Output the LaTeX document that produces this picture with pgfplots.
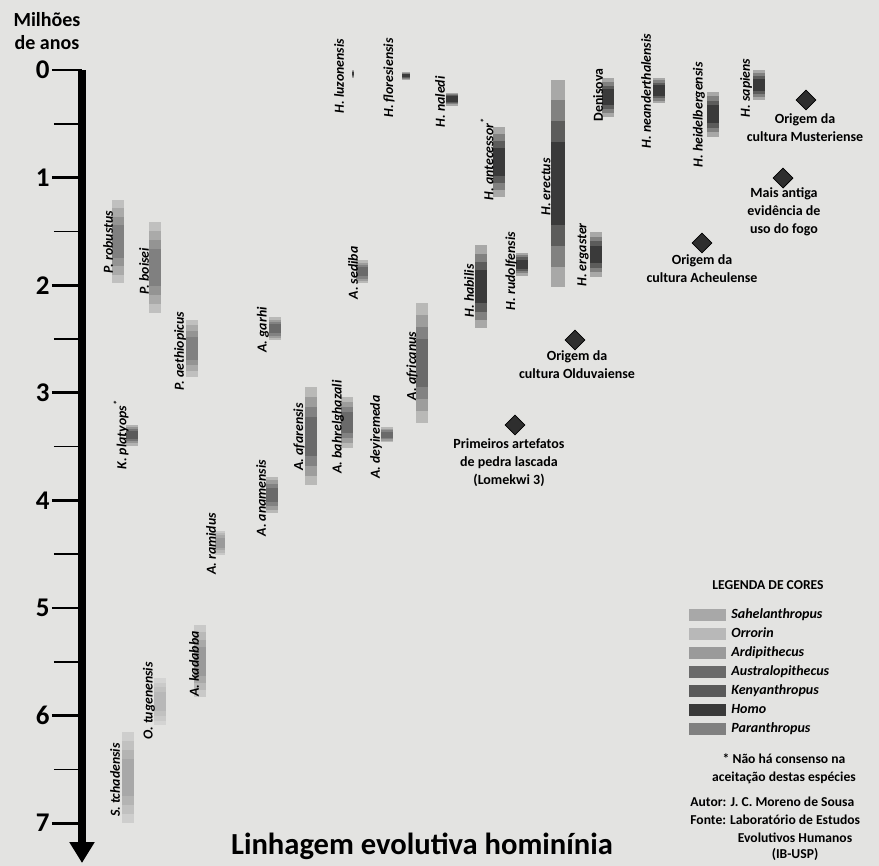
\documentclass[border=0pt]{standalone}
\usepackage{fontspec}
\setmainfont{Carlito}
\usepackage{pgfplots}
\pgfplotsset{compat=1.18}
\usetikzlibrary{arrows.meta}
\definecolor{bgc}{HTML}{E3E3E1}
\definecolor{csahel}{HTML}{A8A8A8}
\definecolor{corr}{HTML}{B8B8B8}
\definecolor{cardi}{HTML}{9A9A9A}
\definecolor{caus}{HTML}{6A6A6A}
\definecolor{cken}{HTML}{5A5A5A}
\definecolor{chomo}{HTML}{3A3A3A}
\definecolor{cpar}{HTML}{808080}
\definecolor{dia}{HTML}{2E2E2E}
\tikzset{
  sp/.style={rotate=90, font=\fontsize{6.9}{7}\selectfont\bfseries\itshape, inner sep=0pt},
  ev/.style={align=center, font=\fontsize{7}{9}\selectfont\bfseries, inner sep=0pt},
}
% species bar: x left, x right, y top (Ma), y bottom (Ma), colour
% drawn as nested layers, darker towards the middle of the range
\newcommand{\spbar}[5]{%
  \pgfmathsetmacro\ya{#3+0.10*(#4-#3)}%
  \pgfmathsetmacro\yb{#4-0.10*(#4-#3)}%
  \pgfmathsetmacro\yc{#3+0.20*(#4-#3)}%
  \pgfmathsetmacro\yd{#4-0.20*(#4-#3)}%
  \pgfmathsetmacro\ye{#3+0.30*(#4-#3)}%
  \pgfmathsetmacro\yf{#4-0.30*(#4-#3)}%
  \edef\tmp{%
  \noexpand\addplot[forget plot, draw=none, fill=#5!35!bgc] coordinates {(#1,#3) (#2,#3) (#2,#4) (#1,#4)} -- cycle;
  \noexpand\addplot[forget plot, draw=none, fill=#5!58!bgc] coordinates {(#1,\ya) (#2,\ya) (#2,\yb) (#1,\yb)} -- cycle;
  \noexpand\addplot[forget plot, draw=none, fill=#5!80!bgc] coordinates {(#1,\yc) (#2,\yc) (#2,\yd) (#1,\yd)} -- cycle;
  \noexpand\addplot[forget plot, draw=none, fill=#5] coordinates {(#1,\ye) (#2,\ye) (#2,\yf) (#1,\yf)} -- cycle;}%
  \tmp}
\begin{document}
\begin{tikzpicture}
\useasboundingbox (0,0) rectangle (439.5pt,-433pt);
\fill[bgc] (0,0) rectangle (439.5pt,-433pt);
\begin{axis}[
  at={(41pt,-35pt)}, anchor=north west,
  scale only axis, width=398.5pt, height=396.5pt,
  xmin=82, xmax=879, ymin=0, ymax=7.37, y dir=reverse,
  axis x line=none, axis y line=left,
  axis line style={line width=3.5pt, black, -{Triangle[width=12pt,length=10.5pt]}},
  ytick={0,1,2,3,4,5,6,7}, minor ytick={0.5,1.5,2.5,3.5,4.5,5.5,6.5},
  tick align=outside, major tick length=15pt, minor tick length=14pt,
  major tick style={line width=1.4pt, black}, minor tick style={line width=0.8pt, black},
  yticklabel style={font=\fontsize{13.5}{13.5}\selectfont\bfseries, anchor=east, inner sep=0pt, xshift=-1pt},
  /pgf/number format/assume math mode=true,
  clip=false,
  legend image code/.code={\fill[#1] (0pt,-3pt) rectangle (18.5pt,3pt);},
  legend style={draw=none, fill=none, at={(axis cs:689,4.97)}, anchor=north west, inner sep=0pt, row sep=0pt,
    font=\fontsize{7}{8}\selectfont\bfseries\itshape, nodes={inner sep=0pt, text height=6.5pt, text depth=3pt}, column sep=2.5pt},
  legend cell align=left,
]
% Sahelanthropus / Orrorin / Ardipithecus
\spbar{122}{134}{6.15}{7.00}{csahel}
\spbar{154}{166}{5.65}{6.09}{corr}
\spbar{194}{206}{5.16}{5.83}{cardi}
\spbar{215}{225}{4.28}{4.51}{cardi}
% Australopithecus
\spbar{266}{278}{3.78}{4.12}{caus}
\spbar{305}{317}{2.95}{3.86}{caus}
\spbar{341}{353}{3.04}{3.51}{caus}
\spbar{381}{393}{3.32}{3.46}{caus}
\spbar{416}{428}{2.17}{3.28}{caus}
\spbar{269}{281}{2.30}{2.51}{caus}
\spbar{356}{368}{1.77}{1.98}{caus}
% Kenyanthropus
\spbar{126}{138}{3.30}{3.49}{cken}
% Paranthropus
\spbar{186}{198}{2.32}{2.85}{cpar}
\spbar{112}{124}{1.21}{1.98}{cpar}
\spbar{149}{161}{1.41}{2.26}{cpar}
% Homo
\spbar{475}{487}{1.63}{2.40}{chomo}
\spbar{516}{528}{1.70}{1.91}{chomo}
\spbar{551}{565}{0.09}{2.02}{chomo}
\spbar{590}{602}{1.51}{1.92}{chomo}
\spbar{493}{505}{0.53}{1.18}{chomo}
\spbar{446}{458}{0.21}{0.33}{chomo}
\spbar{402}{410}{0.02}{0.09}{chomo}
\spbar{352}{354}{0.00}{0.07}{chomo}
\spbar{602}{614}{0.07}{0.44}{chomo}
\spbar{653}{665}{0.07}{0.31}{chomo}
\spbar{707}{719}{0.20}{0.62}{chomo}
\spbar{753}{765}{0.00}{0.28}{chomo}
% cultural events
\addplot[forget plot, only marks, mark=square*, mark size=3.5pt, mark options={rotate=45, fill=dia, draw=black}]
  coordinates {(806,0.279) (783,1.004) (702,1.608) (575,2.509) (515,3.299)};
% legend
\addlegendimage{fill=csahel, draw=none}\addlegendentry{Sahelanthropus}
\addlegendimage{fill=corr, draw=none}\addlegendentry{Orrorin}
\addlegendimage{fill=cardi, draw=none}\addlegendentry{Ardipithecus}
\addlegendimage{fill=caus, draw=none}\addlegendentry{Australopithecus}
\addlegendimage{fill=cken, draw=none}\addlegendentry{Kenyanthropus}
\addlegendimage{fill=chomo, draw=none}\addlegendentry{Homo}
\addlegendimage{fill=cpar, draw=none}\addlegendentry{Paranthropus}
% species labels
\node[sp] at (axis cs:115,6.599) {S. tchadensis};
\node[sp] at (axis cs:149,5.864) {O. tugenensis};
\node[sp] at (axis cs:194,5.520) {A. kadabba};
\node[sp] at (axis cs:211,4.405) {A. ramidus};
\node[sp] at (axis cs:261,3.978) {A. anamensis};
\node[sp] at (axis cs:299,3.411) {A. afarensis};
\node[sp] at (axis cs:338,3.318) {A. bahrelghazali};
\node[sp] at (axis cs:376,3.411) {A. deyiremeda};
\node[sp] at (axis cs:412,2.751) {A. africanus};
\node[sp] at (axis cs:263,2.416) {A. garhi};
\node[sp] at (axis cs:353,1.887) {A. sediba};
\node[sp] at (axis cs:121,3.390) {K. platyops\textsuperscript{*}};
\node[sp] at (axis cs:180,2.612) {P. aethiopicus};
\node[sp] at (axis cs:108,1.599) {P. robustus};
\node[sp] at (axis cs:144,1.868) {P. boisei};
\node[sp] at (axis cs:469,2.054) {H. habilis};
\node[sp] at (axis cs:511,1.868) {H. rudolfensis};
\node[sp] at (axis cs:546,1.087) {H. erectus};
\node[sp] at (axis cs:583,1.719) {H. ergaster};
\node[sp] at (axis cs:487,0.827) {H. antecessor\textsuperscript{*}};
\node[sp] at (axis cs:440,0.297) {H. naledi};
\node[sp] at (axis cs:389,0.074) {H. floresiensis};
\node[sp] at (axis cs:339,0.056) {H. luzonensis};
\node[sp, font=\fontsize{6.9}{7}\selectfont\bfseries] at (axis cs:598,0.232) {Denisova};
\node[sp] at (axis cs:646,0.195) {H. neanderthalensis};
\node[sp] at (axis cs:699,0.418) {H. heidelbergensis};
\node[sp] at (axis cs:746,0.167) {H. sapiens};
% event texts
\node[ev] at (axis cs:805,0.534) {Origem da\\cultura Musteriense};
\node[ev] at (axis cs:784,1.320) {Mais antiga\\evidência de\\uso do fogo};
\node[ev] at (axis cs:702,1.850) {Origem da\\cultura Acheulense};
\node[ev] at (axis cs:577,2.737) {Origem da\\cultura Olduvaiense};
\node[ev] at (axis cs:509,3.652) {Primeiros artefatos\\de pedra lascada\\(Lomekwi 3)};
% axis title and chart title
\node[align=center, font=\fontsize{10}{11.5}\selectfont\bfseries, inner sep=0pt] at (axis cs:47,-0.358) {Milhões\\de anos};
\node[anchor=base, font=\fontsize{15.3}{16}\selectfont\bfseries, inner sep=0pt] at (axis cs:422,7.295) {Linhagem evolutiva hominínia};
% legend title and notes
\node[font=\fontsize{6.8}{8}\selectfont\bfseries, inner sep=0pt] at (axis cs:768,4.786) {LEGENDA DE CORES};
\node[ev, font=\fontsize{6.8}{9}\selectfont\bfseries] at (axis cs:784,6.497) {* Não há consenso na\\aceitação destas espécies};
\node[anchor=west, font=\fontsize{6.8}{8}\selectfont\bfseries, inner sep=0pt] at (axis cs:690,6.803) {Autor: J. C. Moreno de Sousa};
\node[anchor=west, font=\fontsize{6.8}{8}\selectfont\bfseries, inner sep=0pt] at (axis cs:690,6.970) {Fonte: Laboratório de Estudos};
\node[font=\fontsize{6.8}{8}\selectfont\bfseries, inner sep=0pt] at (axis cs:795,7.138) {Evolutivos Humanos};
\node[font=\fontsize{6.8}{8}\selectfont\bfseries, inner sep=0pt] at (axis cs:795,7.29) {(IB-USP)};
\end{axis}
\end{tikzpicture}
\end{document}
